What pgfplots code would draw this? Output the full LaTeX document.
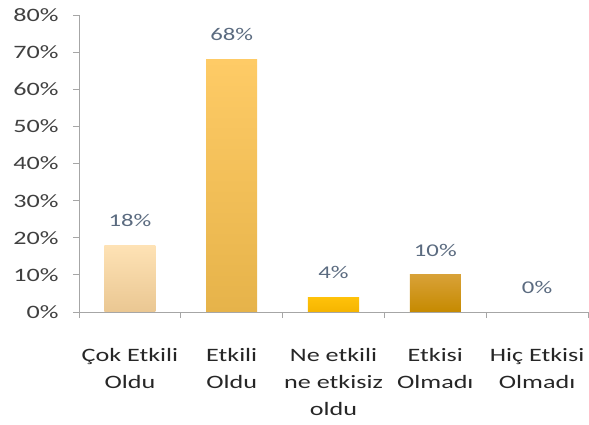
\documentclass[border=0pt]{standalone}
\usepackage{fontspec}
\setmainfont{Carlito}[FakeStretch=1.38]
\usepackage{pgfplots}
\pgfplotsset{compat=1.18}
\definecolor{axgray}{HTML}{A6A6A6}
\definecolor{lblblue}{HTML}{5B6B80}
\definecolor{tickcol}{HTML}{404040}
\definecolor{aT}{HTML}{FEE2B5}\definecolor{aB}{HTML}{EAC792}
\definecolor{bT}{HTML}{FECB66}\definecolor{bB}{HTML}{E6B34A}
\definecolor{cT}{HTML}{FFC20A}\definecolor{cB}{HTML}{F5B400}
\definecolor{dT}{HTML}{D8A137}\definecolor{dB}{HTML}{C68A00}
\begin{document}
\begin{tikzpicture}
\useasboundingbox (0,0) rectangle (589bp,425bp);
\begin{axis}[
  scale only axis, width=509bp, height=297bp,
  at={(79bp,113bp)}, anchor=south west,
  xmin=-0.5, xmax=4.5, ymin=0, ymax=80,
  axis x line*=bottom, axis y line*=left,
  axis line style={axgray, line width=0.8pt},
  ytick={0,10,...,80},
  yticklabels={0\%,10\%,20\%,30\%,40\%,50\%,60\%,70\%,80\%},
  xtick={0,1,2,3,4},
  xticklabels={Çok Etkili\\Oldu, Etkili\\Oldu, Ne etkili\\ne etkisiz\\oldu, Etkisi\\Olmadı, Hiç Etkisi\\Olmadı},
  minor xtick={-0.5,0.5,1.5,2.5,3.5,4.5},
  major x tick style={draw=none},
  minor x tick style={axgray, line width=0.8pt},
  y tick style={axgray, line width=0.8pt},
  tick align=outside, major tick length=6bp, minor tick length=6bp,
  yticklabel style={font=\fontsize{19}{22}\selectfont, text=tickcol, xshift=-11bp},
  xticklabel style={font=\fontsize{19}{27}\selectfont, text=black!85, align=center, yshift=-27bp},
  /pgf/number format/assume math mode=true,
  ybar, bar width=51bp, bar shift=0pt,
  nodes near coords={\pgfmathprintnumber{\pgfplotspointmeta}\%},
  every node near coord/.append style={font=\fontsize{18}{22}\selectfont, text=lblblue, anchor=south, yshift=15bp},
  clip=false,
]
\addplot[draw=none, top color=aT, bottom color=aB] coordinates {(0,18)};
\addplot[draw=none, top color=bT, bottom color=bB] coordinates {(1,68)};
\addplot[draw=none, top color=cT, bottom color=cB] coordinates {(2,4)};
\addplot[draw=none, top color=dT, bottom color=dB] coordinates {(3,10)};
\addplot[draw=none, fill=none] coordinates {(4,0)};
\end{axis}
\end{tikzpicture}
\end{document}
